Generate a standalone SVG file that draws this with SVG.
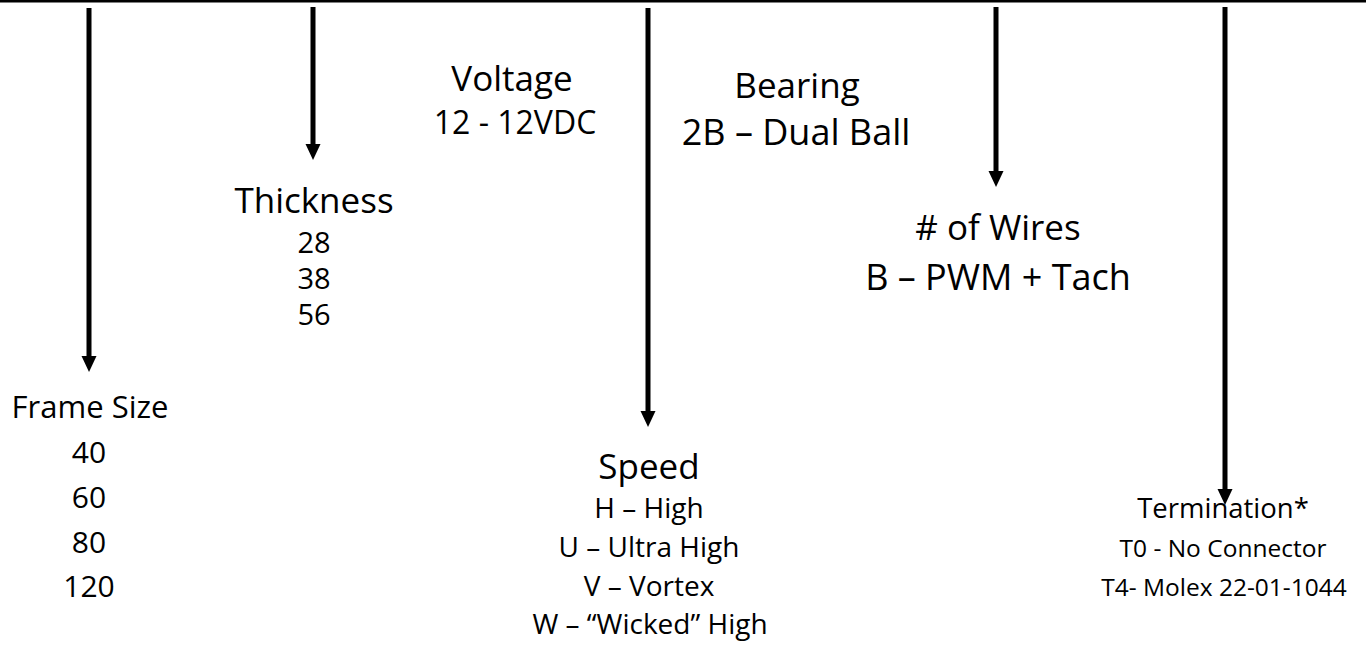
<svg xmlns="http://www.w3.org/2000/svg" width="1366" height="669" viewBox="0 0 1366 669">
<style>
text{font-family:"Open Sans","Noto Sans","DejaVu Sans",sans-serif;fill:#000;text-anchor:middle}
.arr{stroke:#000;stroke-width:5;fill:none}
.h35{font-size:35px}
.h36{font-size:36px}
.h31{font-size:31px}
.h32{font-size:32px}
.h30{font-size:30px}
.h29{font-size:29px}
.h285{font-size:28px}
.h275{font-size:27.5px}
.h23{font-size:24.5px}
</style>
<defs>
<marker id="ah" markerUnits="userSpaceOnUse" markerWidth="17" markerHeight="16" refX="6" refY="7.5" orient="auto" overflow="visible">
<path d="M0,0 L16,7.5 L0,15 z" fill="#000"/>
</marker>
</defs>
<rect x="0" y="0" width="1366" height="2.5" fill="#000"/>
<g id="connectors">
<line class="arr" x1="89" y1="8" x2="89" y2="362" marker-end="url(#ah)"/>
<line class="arr" x1="313" y1="7" x2="313" y2="150" marker-end="url(#ah)"/>
<line class="arr" x1="648" y1="8" x2="648" y2="417" marker-end="url(#ah)"/>
<line class="arr" x1="996" y1="7" x2="996" y2="177" marker-end="url(#ah)"/>
<line class="arr" x1="1225" y1="7" x2="1225" y2="495" marker-end="url(#ah)"/>
</g>
<g id="frame-size">
<text class="h31" x="90" y="418">Frame Size</text>
<text class="h30" x="89" y="463">40</text>
<text class="h30" x="89" y="508">60</text>
<text class="h30" x="89" y="553">80</text>
<text class="h30" x="89" y="597">120</text>
</g>
<g id="thickness">
<text class="h35" x="314" y="213">Thickness</text>
<text class="h29" x="314" y="253">28</text>
<text class="h29" x="314" y="289">38</text>
<text class="h29" x="314" y="325">56</text>
</g>
<g id="voltage">
<text class="h35" x="512" y="91">Voltage</text>
<text class="h32" x="515" y="134">12 - 12VDC</text>
</g>
<g id="bearing">
<text class="h35" x="797" y="98">Bearing</text>
<text class="h36" x="796" y="145">2B – Dual Ball</text>
</g>
<g id="speed">
<text class="h35" x="649" y="479">Speed</text>
<text class="h285" x="649" y="518">H – High</text>
<text class="h285" x="649" y="557">U – Ultra High</text>
<text class="h285" x="649" y="596">V – Vortex</text>
<text class="h285" x="650" y="634">W – “Wicked” High</text>
</g>
<g id="wires">
<text class="h35" x="998" y="240"># of Wires</text>
<text class="h36" x="998" y="290">B – PWM + Tach</text>
</g>
<g id="termination">
<text class="h275" x="1223" y="518">Termination*</text>
<text class="h23" x="1223" y="557">T0 - No Connector</text>
<text class="h23" x="1224" y="596">T4- Molex 22-01-1044</text>
</g>
</svg>
